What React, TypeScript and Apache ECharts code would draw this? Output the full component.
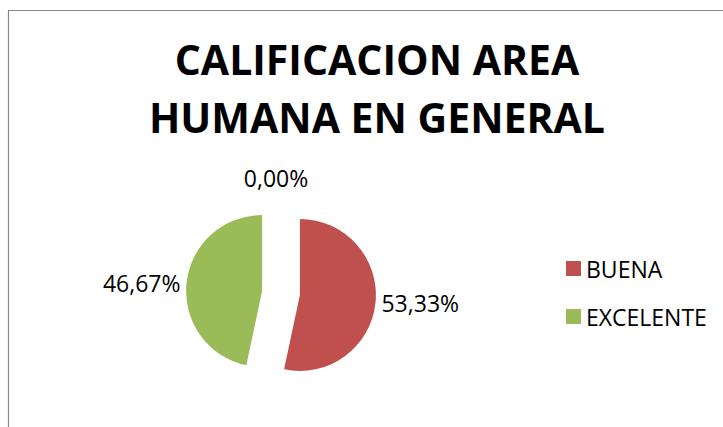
import React, { useEffect, useRef } from "react";
import * as echarts from "echarts";

const titleText = "CALIFICACION AREA\nHUMANA EN GENERAL";
const categories = ["BUENA", "EXCELENTE", "SIN CALIFICAR"];
const values = [8, 7, 0];
const colors = ["#C0504D", "#9BBB59", "#4F81BD"];
const legendItems = ["BUENA", "EXCELENTE"];

const FONT = "'Open Sans', sans-serif";

export default function App() {
  const ref = useRef<HTMLDivElement>(null);
  useEffect(() => {
    if (!ref.current) return;
    const chart = echarts.init(ref.current, undefined, { renderer: "svg" });
    const data = categories.map((name, i) => ({
      name,
      value: values[i],
      selected: true,
      itemStyle: { color: colors[i] },
      labelLine: i === 2 ? { show: false, length: 20, length2: 0 } : { show: false, length: 1, length2: 0 },
    }));
    chart.setOption({
      animation: false,
      backgroundColor: "#ffffff",
      title: {
        text: titleText,
        left: 372,
        top: 25,
        textAlign: "center",
        textStyle: {
          fontFamily: FONT,
          fontWeight: "bold",
          fontSize: 41,
          lineHeight: 58,
          color: "#000000",
        },
      },
      legend: {
        data: legendItems,
        orient: "vertical",
        left: 566,
        top: 257,
        padding: 0,
        icon: "rect",
        itemWidth: 15,
        itemHeight: 15,
        itemGap: 25,
        textStyle: { fontFamily: FONT, fontSize: 23, color: "#000000" },
      },
      graphic: [
        {
          type: "rect",
          shape: { x: 8.5, y: 10.5, width: 800, height: 500 },
          style: { fill: "none", stroke: "#8a8a8a", lineWidth: 1.2 },
          silent: true,
        },
      ],
      series: [
        {
          type: "pie",
          center: [281, 293],
          radius: 76,
          startAngle: 90,
          clockwise: true,
          selectedMode: "multiple",
          selectedOffset: 19,
          data,
          label: {
            show: true,
            position: "outside",
            fontFamily: FONT,
            fontSize: 23,
            color: "#000000",
            formatter: (p: any) => p.percent.toFixed(2).replace(".", ",") + "%",
          },
          labelLine: { show: false },
          labelLayout: (p: any) => (p.dataIndex === 2 ? { align: "center" } : {}),
          emphasis: { disabled: true },
        },
      ],
    });
    return () => chart.dispose();
  }, []);
  return (
    <div
      ref={ref}
      style={{ position: "absolute", left: 0, top: 0, width: 723, height: 427 }}
    />
  );
}
